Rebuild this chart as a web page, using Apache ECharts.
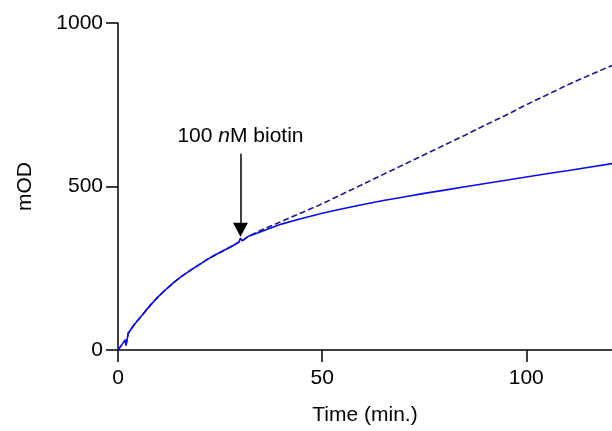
<!DOCTYPE html>
<html>
<head>
<meta charset="utf-8">
<script src="https://cdn.jsdelivr.net/npm/echarts@6/dist/echarts.min.js"></script>
<style>
html,body{margin:0;padding:0;background:#fff;}
#chart{width:612px;height:431px;}
</style>
</head>
<body>
<div id="chart"></div>
<script>
// Time (min.) and mOD values
var solidTime = [0, 1.8, 1.95, 2.5, 4, 6, 8, 10, 12, 14, 16, 18, 20, 22, 24, 26, 28, 29.6, 30, 30.4, 32, 35, 40, 45, 50, 55, 60, 65, 70, 75, 80, 85, 90, 95, 100, 105, 110, 115, 121];
var solidValues = [0, 31, 14, 51, 78, 108, 138, 165, 188, 210, 229, 246, 262, 278, 292, 305, 318, 330, 342, 334, 348, 362, 385, 402, 418, 432, 445, 457, 468, 479, 489, 499, 509, 519, 529, 539, 548, 558, 570];

var dashedTime = [0, 1.8, 1.95, 2.5, 4, 6, 8, 10, 12, 14, 16, 18, 20, 22, 24, 26, 28, 29.6, 30.4, 32, 35, 40, 45, 50, 55, 60, 65, 70, 75, 80, 85, 90, 95, 100, 105, 110, 115, 121];
var dashedValues = [0, 31, 14, 51, 78, 108, 138, 165, 188, 210, 229, 246, 262, 278, 292, 305, 318, 330, 334, 348, 366, 393, 420, 447, 477, 507, 537, 567, 597, 627, 657, 688, 718, 750, 780, 810, 838, 870];

var xTicks = [0, 50, 100];
var yTicks = [0, 500, 1000];

// annotation (data space)
var biotinTime = 30;
var arrowTop = 600;
var arrowTip = 368;

function pairs(t, v) { return t.map(function (x, i) { return [x, v[i]]; }); }

var chart = echarts.init(document.getElementById('chart'), null, {renderer: 'canvas'});
var font = 'Liberation Sans, Arial, Helvetica, sans-serif';
var axisColor = '#000';
var fs = 21;

chart.setOption({
  animation: false,
  backgroundColor: '#fff',
  grid: {left: 118, right: 0, top: 23, bottom: 77, containLabel: false},
  xAxis: {
    type: 'value', min: 0, max: 121, interval: 50,
    name: 'Time (min.)', nameLocation: 'middle', nameGap: 55,
    nameTextStyle: {fontFamily: font, fontSize: fs, color: '#000'},
    axisLine: {show: true, onZero: false, lineStyle: {color: axisColor, width: 1.5}},
    axisTick: {show: true, length: 12, lineStyle: {color: axisColor, width: 1.5}, customValues: xTicks},
    axisLabel: {fontFamily: font, fontSize: fs, color: '#000', margin: 18, customValues: xTicks,
      formatter: function (v) { return String(v); }},
    splitLine: {show: false}
  },
  yAxis: {
    type: 'value', min: 0, max: 1000, interval: 500,
    name: 'mOD', nameLocation: 'middle', nameGap: 82, nameRotate: 90,
    nameTextStyle: {fontFamily: font, fontSize: fs, color: '#000'},
    axisLine: {show: true, onZero: false, lineStyle: {color: axisColor, width: 1.5}},
    axisTick: {show: true, length: 12, lineStyle: {color: axisColor, width: 1.5}, customValues: yTicks},
    axisLabel: {fontFamily: font, fontSize: fs, color: '#000', margin: 15, customValues: yTicks,
      formatter: function (v) { return String(v); }},
    splitLine: {show: false}
  },
  series: [
    {
      type: 'line', name: 'no biotin', data: pairs(dashedTime, dashedValues),
      showSymbol: false, symbol: 'none', smooth: false,
      lineStyle: {color: '#1a1a8c', width: 1.6, type: [6, 3]},
      z: 2
    },
    {
      type: 'line', name: 'biotin', data: pairs(solidTime, solidValues),
      showSymbol: false, symbol: 'none', smooth: false,
      lineStyle: {color: '#0a0af5', width: 1.6},
      z: 3,
      markLine: {
        silent: true,
        symbol: ['none', 'triangle'],
        symbolSize: [15, 14],
        lineStyle: {color: '#000', width: 1.5, type: 'solid'},
        label: {
          show: true, position: 'start', distance: 7,
          formatter: '{a|100 }{i|n}{a|M biotin}',
          rich: {
            a: {fontFamily: font, fontSize: fs, color: '#000'},
            i: {fontFamily: font, fontSize: fs, color: '#000', fontStyle: 'italic'}
          }
        },
        data: [[{coord: [biotinTime, arrowTop]}, {coord: [biotinTime, arrowTip]}]]
      }
    }
  ]
});
</script>
</body>
</html>
